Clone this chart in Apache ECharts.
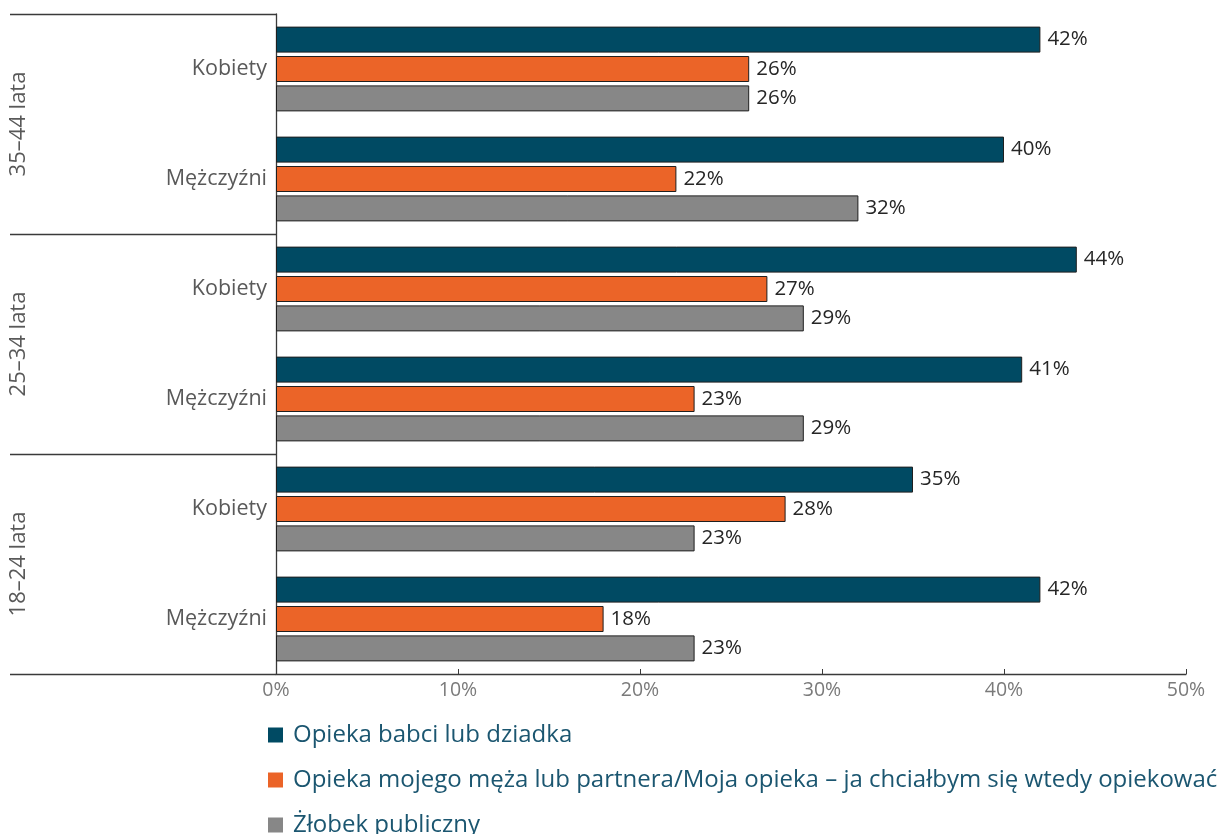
<!DOCTYPE html>
<html>
<head>
<meta charset="utf-8">
<script src="https://cdn.jsdelivr.net/npm/echarts@6/dist/echarts.min.js"></script>
<style>
html,body{margin:0;padding:0;background:#fff;}
#chart{width:1220px;height:834px;}
</style>
</head>
<body>
<div id="chart"></div>
<script>
const categories = ['Kobiety', 'Mężczyźni', 'Kobiety', 'Mężczyźni', 'Kobiety', 'Mężczyźni'];
const groups = ['35–44 lata', '25–34 lata', '18–24 lata'];
const seriesNames = ['Opieka babci lub dziadka', 'Opieka mojego męża lub partnera/Moja opieka – ja chciałbym się wtedy opiekować', 'Żłobek publiczny'];
const babciDziadek = [42, 40, 44, 41, 35, 42];
const partner = [26, 22, 27, 23, 28, 18];
const zlobek = [26, 32, 29, 29, 23, 23];
const xTicks = [0, 10, 20, 30, 40, 50];
const colors = ['#004a63', '#eb6428', '#878787'];

const chart = echarts.init(document.getElementById('chart'));
const font = '"Open Sans", "Noto Sans", sans-serif';
const mkSeries = (name, data, color) => ({
  name: name,
  type: 'bar',
  data: data,
  barWidth: 26,
  barGap: '13%',
  itemStyle: { color: color, borderColor: '#1f1f1f', borderWidth: 1 },
  label: {
    show: true, position: 'right', distance: 7,
    formatter: '{c}%', color: '#262626', fontSize: 20.5, fontFamily: font
  },
  emphasis: { disabled: true }
});

chart.setOption({
  animation: false,
  backgroundColor: '#ffffff',
  grid: { left: 276, right: 34, top: 14, bottom: 160 },
  xAxis: {
    type: 'value', min: xTicks[0], max: xTicks[xTicks.length - 1], interval: 10,
    axisLine: { show: true, lineStyle: { color: '#3a3a3a', width: 1.3 } },
    axisTick: { show: true, inside: true, length: 5, lineStyle: { color: '#3a3a3a' } },
    splitLine: { show: false },
    axisLabel: { formatter: '{value}%', color: '#7a7a7a', fontSize: 19.5, fontFamily: font, margin: 6 }
  },
  yAxis: [
    {
      type: 'category', data: categories, inverse: true,
      axisLine: { show: true, lineStyle: { color: '#3a3a3a', width: 1.3 } },
      axisTick: { show: false },
      axisLabel: { color: '#595959', fontSize: 21.5, fontFamily: font, margin: 9 }
    },
    {
      type: 'category', data: groups, inverse: true, position: 'left',
      axisLine: { show: false },
      axisTick: { show: true, length: 266, lineStyle: { color: '#3a3a3a', width: 1.3 } },
      axisLabel: {
        rotate: 90, margin: 257, color: '#595959', fontSize: 22, fontFamily: font,
        align: 'center', verticalAlign: 'middle'
      }
    }
  ],
  legend: {
    orient: 'vertical', left: 268, top: 723, height: 160, width: 960, padding: 0,
    itemWidth: 15, itemHeight: 15, itemGap: 21,
    icon: 'rect',
    itemStyle: { borderWidth: 0 },
    textStyle: { color: '#1b5670', fontSize: 24, lineHeight: 22, fontFamily: font, padding: [0, 0, 0, 5] },
    data: seriesNames
  },
  series: [
    mkSeries(seriesNames[0], babciDziadek, colors[0]),
    mkSeries(seriesNames[1], partner, colors[1]),
    mkSeries(seriesNames[2], zlobek, colors[2])
  ]
});
</script>
</body>
</html>
